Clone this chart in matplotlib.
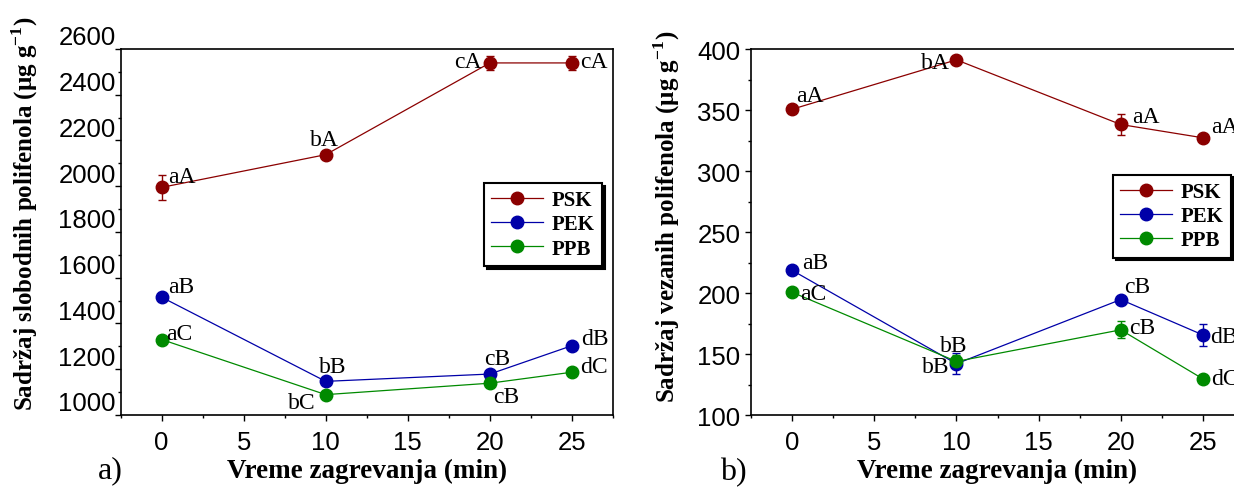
import matplotlib
matplotlib.use("Agg")
import matplotlib.pyplot as plt
import matplotlib.transforms as mtransforms
from matplotlib.ticker import MultipleLocator

plt.rcParams['mathtext.fontset'] = 'custom'
plt.rcParams['mathtext.rm'] = 'Liberation Serif:bold'
plt.rcParams['mathtext.bf'] = 'Liberation Serif:bold'

# heating time (min)
minutes = [0, 10, 20, 25]
series_names = ["PSK", "PEK", "PPB"]
colors = ["#8B0000", "#0000A8", "#008A00"]

# a) free polyphenols (ug/g)
free_vals = [[1995, 2138, 2539, 2539],
             [1515, 1147, 1179, 1303],
             [1330, 1089, 1139, 1187]]
free_err = [[53, 15, 32, 32],
            [8, 10, 10, 8],
            [10, 10, 10, 10]]
free_letters = [["aA", "bA", "cA", "cA"],
                ["aB", "bB", "cB", "dB"],
                ["aC", "bC", "cB", "dC"]]

# b) bound polyphenols (ug/g)
bound_vals = [[351, 391.5, 338.5, 327.6],
              [219, 142.4, 195, 166],
              [201, 144.3, 170.2, 130]]
bound_err = [[3, 2, 9, 2],
             [2, 8.5, 3, 9],
             [2, 5, 7, 3]]
bound_letters = [["aA", "bA", "aA", "aA"],
                 ["aB", "bB", "cB", "dB"],
                 ["aC", "bB", "cB", "dC"]]

# text offsets (points) and alignment for the letter labels
free_offsets = [[(5, 8, 'left'), (-1, 11, 'center'), (-6, 1, 'right'), (6, 1, 'left')],
                [(5, 8, 'left'), (5, 10.5, 'center'), (5, 11.5, 'center'), (7, 5, 'left')],
                [(3.5, 4.5, 'left'), (-7, -5.5, 'right'), (12, -9.5, 'center'), (6, 4, 'left')]]
bound_offsets = [[(3, 9.6, 'left'), (-5, -1.7, 'right'), (8, 6, 'left'), (6, 8.4, 'left')],
                 [(7, 5.3, 'left'), (-5, -2, 'right'), (12, 9.6, 'center'), (5, -1, 'left')],
                 [(6, -1, 'left'), (-2, 11.5, 'center'), (6, 2, 'left'), (6, 0, 'left')]]

serif = 'Liberation Serif'
sans = 'Liberation Sans'

fig = plt.figure(figsize=(12.34, 4.89), dpi=100)
ax1 = fig.add_axes([0.0977, 0.1493, 0.399, 0.7485])
ax2 = fig.add_axes([0.6086, 0.1483, 0.3995, 0.7485])


def draw_panel(ax, vals, errs, letters, offsets, ylim, major, minor):
    handles = []
    for i in range(3):
        c = ax.errorbar(minutes, vals[i], yerr=errs[i], fmt='-o', color=colors[i],
                        lw=0.9, ms=9, capsize=3, elinewidth=1, capthick=1)
        handles.append(c[0])
        for j in range(4):
            dx, dy, ha = offsets[i][j]
            ax.annotate(letters[i][j], (minutes[j], vals[i][j]), xytext=(dx, dy),
                        textcoords='offset points', ha=ha, va='center',
                        fontsize=17, family=serif, annotation_clip=False)
    ax.set_xlim(-2.5, 27.5)
    ax.set_ylim(*ylim)
    ax.xaxis.set_major_locator(MultipleLocator(5))
    ax.xaxis.set_minor_locator(MultipleLocator(2.5))
    ax.yaxis.set_major_locator(MultipleLocator(major))
    ax.yaxis.set_minor_locator(MultipleLocator(minor))
    ax.tick_params(which='major', length=4.5, width=1, labelsize=18.5)
    ax.tick_params(which='minor', length=2.5, width=1)
    ax.tick_params(axis='x', pad=6)
    for lab in ax.get_xticklabels() + ax.get_yticklabels():
        lab.set_family(sans)
    for s in ax.spines.values():
        s.set_linewidth(1.2)
    ax.set_xlabel('Vreme zagrevanja (min)', family=serif, fontweight='bold',
                  fontsize=19.5, labelpad=3)
    leg = ax.legend(handles, series_names, loc='upper left', frameon=True,
                    fancybox=False, shadow={'color': 'black', 'alpha': 1},
                    prop={'family': serif, 'weight': 'bold', 'size': 15},
                    handlelength=2.5, handletextpad=0.4, labelspacing=0.2,
                    borderpad=0.35, borderaxespad=0)
    leg.get_frame().set_edgecolor('black')
    leg.get_frame().set_linewidth(1.5)
    return leg


leg1 = draw_panel(ax1, free_vals, free_err, free_letters, free_offsets,
                  (1000, 2600), 200, 100)
leg1.set_bbox_to_anchor((0.738, 0.634), transform=ax1.transAxes)
leg2 = draw_panel(ax2, bound_vals, bound_err, bound_letters, bound_offsets,
                  (100, 400), 50, 25)
leg2.set_bbox_to_anchor((0.734, 0.658), transform=ax2.transAxes)

# left panel tick labels sit a bit higher than their ticks
ax1.tick_params(axis='y', pad=-1)
shift = mtransforms.ScaledTranslation(0, 0.14, fig.dpi_scale_trans)
for lab in ax1.get_yticklabels():
    lab.set_transform(lab.get_transform() + shift)
ax2.tick_params(axis='y', pad=3)

ax1.set_ylabel(r'Sadržaj slobodnih polifenola (μg g$^{-1}$)', family=serif,
               fontweight='bold', fontsize=18)
ax1.yaxis.set_label_coords(-0.163, 0.553)
ax2.set_ylabel(r'Sadržaj vezanih polifenola (μg g$^{-1}$)', family=serif,
               fontweight='bold', fontsize=18)
ax2.yaxis.set_label_coords(-0.14, 0.545)

fig.text(110 / 1234, 1 - 471 / 489, 'a)', family=serif, fontsize=23, ha='center', va='center')
fig.text(733 / 1234, 1 - 473 / 489, 'b)', family=serif, fontsize=23, ha='center', va='center')

fig.savefig('out.png', dpi=100)
